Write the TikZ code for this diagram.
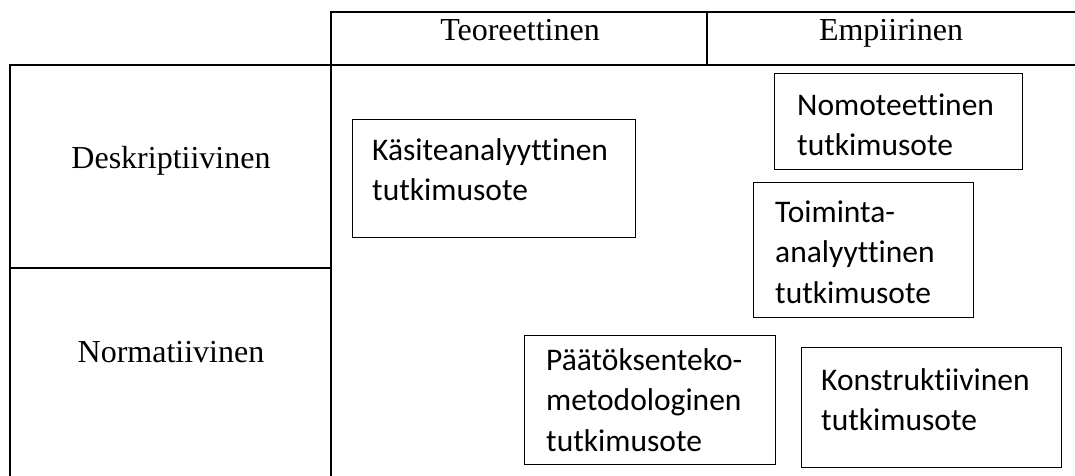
\documentclass[tikz,border=0pt]{standalone}
\usepackage{fontspec}
\setmainfont{Liberation Serif}
\newfontfamily\boxfont[Ligatures=NoCommon]{Carlito}
\begin{document}
\begin{tikzpicture}[x=1pt,y=-1pt,
  tab/.style={line width=1.6pt, line cap=rect},
  hdr/.style={font=\fontsize{32}{38}\selectfont, inner sep=0pt, anchor=base},
  bx/.style={draw, line width=1pt, inner sep=0pt, anchor=north west},
  txt/.style={font=\boxfont\fontsize{31.5}{40.5}\selectfont, inner sep=0pt, anchor=base west}]
\useasboundingbox (0,0) rectangle (1075,475);
% table grid
\coordinate (ht) at (331,12);
\coordinate (hr) at (1075,12);
\coordinate (vb) at (331,475);
\coordinate (rl) at (10,65);
\coordinate (rr) at (1075,65);
\coordinate (lb) at (10,475);
\coordinate (ml) at (10,268);
\coordinate (mr) at (331,268);
\coordinate (dt) at (707,12);
\coordinate (db) at (707,65);
\draw[tab] (hr) -- (ht) -- (vb);
\draw[tab] (rr) -- (rl) -- (lb);
\draw[tab] (ml) -- (mr);
\draw[tab] (dt) -- (db);
% headers
\node[hdr] (teo) at (520,40) {Teoreettinen};
\node[hdr] (emp) at (891,40) {Empiirinen};
\node[hdr] (des) at (171,168) {Deskriptiivinen};
\node[hdr] (nor) at (171,362) {Normatiivinen};
% boxes
\node[bx, minimum width=283, minimum height=118] (kas) at (352,119) {};
\node[txt] (kast) at (372,160) {\parbox[t]{300pt}{Käsiteanalyyttinen\\tutkimusote}};
\node[bx, minimum width=248, minimum height=96] (nom) at (774,73) {};
\node[txt] (nomt) at (797,115) {\parbox[t]{300pt}{Nomoteettinen\\tutkimusote}};
\node[bx, minimum width=220, minimum height=135] (toi) at (753,182) {};
\node[txt] (toit) at (775,222) {\parbox[t]{300pt}{Toiminta-\\analyyttinen\\tutkimusote}};
\node[bx, minimum width=251, minimum height=129] (paa) at (524,335) {};
\node[txt] (paat) at (546,370) {\parbox[t]{300pt}{Päätöksenteko-\\metodologinen\\tutkimusote}};
\node[bx, minimum width=260, minimum height=120] (kon) at (801,347) {};
\node[txt] (kont) at (821,390) {\parbox[t]{300pt}{Konstruktiivinen\\tutkimusote}};
\end{tikzpicture}
\end{document}
